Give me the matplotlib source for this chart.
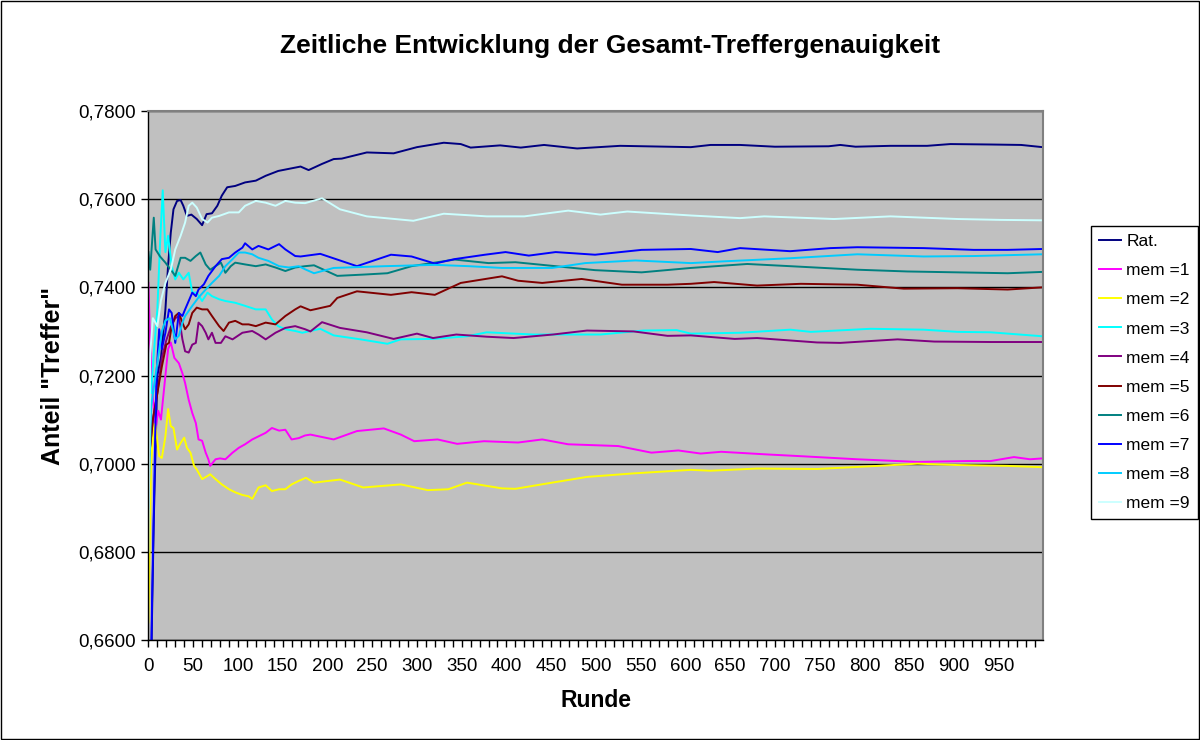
import matplotlib
matplotlib.use('Agg')
import matplotlib.pyplot as plt
from matplotlib.ticker import FixedLocator, MultipleLocator
from matplotlib.patches import Rectangle

# ---- data ----
rat_x = [0, 2, 4, 6, 10, 14, 19, 22, 25, 28, 32, 36, 39, 43, 48, 54, 60, 65, 71, 77,
         82, 88, 97, 108, 120, 131, 145, 160, 170, 179, 194, 207, 216, 244, 274, 300,
         330, 349, 360, 393, 416, 442, 479, 527, 580, 606, 628, 661, 700, 760, 773,
         790, 829, 870, 896, 941, 975, 999]
rat_y = [0.600, 0.640, 0.665, 0.687, 0.720, 0.724, 0.735, 0.745, 0.7524, 0.7577,
         0.7596, 0.7598, 0.7585, 0.7562, 0.7565, 0.7555, 0.7541, 0.7566, 0.7568,
         0.7585, 0.7608, 0.7627, 0.7630, 0.7638, 0.7642, 0.7653, 0.7664, 0.7670,
         0.7674, 0.7666, 0.7680, 0.7691, 0.7692, 0.7706, 0.7704, 0.7718, 0.7728,
         0.7725, 0.7717, 0.7722, 0.7717, 0.7723, 0.7715, 0.7721, 0.7719, 0.7718,
         0.7723, 0.7723, 0.7719, 0.7720, 0.7723, 0.7719, 0.7721, 0.7721, 0.7725,
         0.7724, 0.7723, 0.7718]

m1_x = [0, 2, 5, 8, 11, 14, 18, 22, 25, 29, 34, 38, 41, 45, 49, 53, 56, 60, 64, 67,
        69, 75, 80, 86, 94, 101, 108, 116, 123, 131, 138, 146, 153, 160, 168, 175,
        181, 207, 233, 263, 282, 297, 323, 345, 375, 413, 440, 469, 525, 562, 592,
        617, 640, 691, 729, 792, 859, 915, 941, 967, 985, 999]
m1_y = [0.741, 0.727, 0.715, 0.708, 0.712, 0.710, 0.718, 0.726, 0.7275, 0.724,
        0.7228, 0.7205, 0.7183, 0.7145, 0.7115, 0.7092, 0.7055, 0.7052, 0.7025,
        0.7010, 0.6995, 0.7010, 0.7012, 0.7010, 0.7025, 0.7036, 0.7044, 0.7055,
        0.7062, 0.7070, 0.7081, 0.7075, 0.7077, 0.7055, 0.7058, 0.7064, 0.7066,
        0.7055, 0.7074, 0.7080, 0.7066, 0.7051, 0.7055, 0.7045, 0.7051, 0.7048,
        0.7055, 0.7044, 0.7040, 0.7025, 0.7030, 0.7023, 0.7027, 0.7021, 0.7017,
        0.7010, 0.7004, 0.7006, 0.7006, 0.7015, 0.7010, 0.7012]

m2_x = [0, 3, 6, 8, 12, 15, 19, 22, 25, 28, 32, 36, 40, 43, 47, 51, 54, 60, 66, 69,
        75, 82, 90, 97, 105, 112, 116, 123, 131, 138, 146, 153, 160, 168, 176, 185,
        214, 240, 282, 312, 335, 356, 395, 410, 451, 490, 542, 606, 628, 680, 747,
        815, 859, 903, 960, 999]
m2_y = [0.664, 0.700, 0.709, 0.7085, 0.7017, 0.7013, 0.7062, 0.7124, 0.7085, 0.7081,
        0.7032, 0.7047, 0.7059, 0.7036, 0.7025, 0.6995, 0.6987, 0.6965, 0.6972,
        0.6976, 0.6965, 0.6953, 0.6942, 0.6935, 0.6929, 0.6926, 0.6920, 0.6946,
        0.6951, 0.6938, 0.6942, 0.6942, 0.6953, 0.6961, 0.6968, 0.6957, 0.6964,
        0.6946, 0.6953, 0.6940, 0.6942, 0.6957, 0.6944, 0.6943, 0.6957, 0.6970,
        0.6978, 0.6986, 0.6984, 0.6989, 0.6988, 0.6995, 0.7000, 0.6997, 0.6995,
        0.6992]

m3_x = [0, 3, 6, 10, 13, 16, 19, 22, 26, 30, 34, 39, 45, 49, 54, 60, 66, 71, 79, 86,
        97, 108, 120, 131, 138, 145, 153, 164, 172, 192, 207, 237, 267, 282, 318, 356,
        378, 430, 505, 553, 590, 606, 661, 717, 740, 807, 866, 904, 941, 999]
m3_y = [0.719, 0.716, 0.725, 0.735, 0.750, 0.762, 0.748, 0.7517, 0.7448, 0.7418,
        0.7433, 0.7418, 0.7433, 0.7388, 0.7388, 0.7369, 0.7388, 0.7380, 0.7373,
        0.7369, 0.7365, 0.7358, 0.7350, 0.7350, 0.7327, 0.7312, 0.7305, 0.7301,
        0.7297, 0.7306, 0.7291, 0.7282, 0.7272, 0.7282, 0.7283, 0.7289, 0.7298,
        0.7293, 0.7293, 0.7302, 0.7303, 0.7295, 0.7297, 0.7304, 0.7299, 0.7306,
        0.7304, 0.7299, 0.7298, 0.7289]

m4_x = [0, 5, 10, 15, 20, 25, 30, 34, 38, 41, 45, 49, 53, 56, 60, 64, 67, 71, 75, 81,
        86, 94, 105, 116, 123, 131, 142, 153, 164, 175, 181, 194, 214, 244, 274, 300,
        318, 344, 378, 408, 452, 490, 542, 580, 606, 655, 680, 747, 773, 837, 878,
        941, 999]
m4_y = [0.700, 0.710, 0.716, 0.724, 0.728, 0.731, 0.733, 0.7335, 0.7282, 0.7255,
        0.7252, 0.7270, 0.7274, 0.7320, 0.7312, 0.7297, 0.7282, 0.7297, 0.7274,
        0.7274, 0.7289, 0.7282, 0.7297, 0.7301, 0.7293, 0.7282, 0.7297, 0.7308,
        0.7312, 0.7305, 0.7300, 0.7321, 0.7308, 0.7298, 0.7283, 0.7295, 0.7285,
        0.7293, 0.7288, 0.7285, 0.7293, 0.7302, 0.7300, 0.7290, 0.7291, 0.7283,
        0.7285, 0.7275, 0.7274, 0.7282, 0.7277, 0.7276, 0.7276]

m5_x = [0, 5, 10, 15, 20, 23, 26, 30, 34, 38, 41, 45, 49, 54, 60, 66, 71, 79, 84, 90,
        97, 105, 112, 120, 131, 142, 153, 164, 170, 181, 203, 211, 233, 271, 294, 320,
        349, 395, 413, 440, 484, 529, 580, 606, 632, 680, 729, 792, 844, 904, 960, 999]
m5_y = [0.700, 0.710, 0.716, 0.722, 0.727, 0.7274, 0.7312, 0.7335, 0.7342, 0.7320,
        0.7305, 0.7316, 0.7342, 0.7354, 0.7350, 0.7350, 0.7335, 0.7312, 0.7301,
        0.7320, 0.7324, 0.7316, 0.7316, 0.7312, 0.7320, 0.7316, 0.7335, 0.7350,
        0.7357, 0.7348, 0.7358, 0.7376, 0.7391, 0.7383, 0.7389, 0.7383, 0.7410,
        0.7425, 0.7415, 0.7410, 0.7419, 0.7406, 0.7406, 0.7408, 0.7412, 0.7404,
        0.7408, 0.7406, 0.7397, 0.7398, 0.7395, 0.7400]

m6_x = [0, 2, 4, 6, 8, 13, 19, 25, 30, 36, 41, 47, 53, 58, 64, 69, 75, 81, 86, 92,
        97, 108, 120, 131, 142, 153, 164, 175, 185, 211, 241, 267, 294, 342, 380, 410,
        455, 499, 551, 606, 669, 717, 792, 848, 904, 960, 999]
m6_y = [0.748, 0.744, 0.750, 0.7558, 0.7486, 0.7470, 0.7456, 0.7440, 0.7426, 0.7467,
        0.7467, 0.7460, 0.7471, 0.7479, 0.7452, 0.7440, 0.7448, 0.7456, 0.7433,
        0.7448, 0.7456, 0.7452, 0.7448, 0.7452, 0.7445, 0.7437, 0.7445, 0.7448,
        0.7450, 0.7426, 0.7429, 0.7432, 0.7448, 0.7463, 0.7455, 0.7457, 0.7448,
        0.7439, 0.7434, 0.7444, 0.7453, 0.7448, 0.7440, 0.7436, 0.7434, 0.7432,
        0.7435]

m7_x = [0, 2, 4, 7, 9, 12, 15, 19, 23, 26, 30, 34, 38, 41, 45, 49, 53, 56, 62, 67,
        75, 82, 90, 97, 105, 108, 116, 123, 134, 146, 153, 164, 170, 192, 233, 271,
        294, 320, 342, 376, 399, 425, 455, 499, 551, 606, 636, 661, 717, 762, 792,
        866, 922, 960, 999]
m7_y = [0.600, 0.640, 0.668, 0.700, 0.720, 0.7305, 0.7260, 0.7297, 0.7350, 0.7342,
        0.7274, 0.7342, 0.7335, 0.7350, 0.7369, 0.7388, 0.7380, 0.7395, 0.7407,
        0.7426, 0.7448, 0.7464, 0.7467, 0.7479, 0.7490, 0.7500, 0.7486, 0.7494,
        0.7486, 0.7498, 0.7486, 0.7471, 0.7470, 0.7476, 0.7448, 0.7474, 0.7470,
        0.7454, 0.7464, 0.7474, 0.7480, 0.7472, 0.7480, 0.7474, 0.7485, 0.7487,
        0.7480, 0.7489, 0.7482, 0.7489, 0.7491, 0.7489, 0.7485, 0.7485, 0.7487]

m8_x = [0, 3, 8, 15, 19, 24, 30, 34, 38, 41, 49, 56, 64, 71, 79, 86, 94, 101, 108,
        116, 123, 134, 146, 157, 168, 175, 185, 207, 264, 320, 358, 395, 451, 488,
        544, 606, 643, 717, 792, 866, 922, 999]
m8_y = [0.690, 0.713, 0.720, 0.730, 0.7325, 0.733, 0.7282, 0.7290, 0.7320, 0.7335,
        0.7358, 0.7377, 0.7395, 0.7410, 0.7426, 0.7448, 0.7464, 0.7479, 0.7479,
        0.7475, 0.7467, 0.7460, 0.7448, 0.7445, 0.7448, 0.7441, 0.7432, 0.7444,
        0.7448, 0.7451, 0.7448, 0.7444, 0.7444, 0.7455, 0.7461, 0.7455, 0.7459,
        0.7466, 0.7475, 0.7470, 0.7471, 0.7475]

m9_x = [0, 2, 5, 10, 14, 19, 25, 30, 36, 41, 45, 49, 54, 60, 66, 71, 79, 90, 101,
        108, 120, 131, 142, 153, 164, 175, 194, 214, 244, 296, 330, 378, 420, 469,
        505, 535, 606, 661, 688, 766, 829, 904, 952, 999]
m9_y = [0.680, 0.725, 0.733, 0.7312, 0.737, 0.741, 0.744, 0.7486, 0.7517, 0.7547,
        0.7585, 0.7592, 0.7581, 0.7555, 0.7547, 0.7558, 0.7562, 0.7570, 0.7570,
        0.7585, 0.7596, 0.7592, 0.7585, 0.7596, 0.7592, 0.7591, 0.7602, 0.7577,
        0.7561, 0.7551, 0.7567, 0.7561, 0.7561, 0.7574, 0.7565, 0.7572, 0.7563,
        0.7557, 0.7561, 0.7555, 0.7561, 0.7555, 0.7553, 0.7552]

labels = ['Rat.', 'mem =1', 'mem =2', 'mem =3', 'mem =4', 'mem =5',
          'mem =6', 'mem =7', 'mem =8', 'mem =9']
colors = ['#000080', '#FF00FF', '#FFFF00', '#00FFFF', '#800080', '#800000',
          '#008080', '#0000FF', '#00CCFF', '#CCFFFF']
series = [(rat_x, rat_y), (m1_x, m1_y), (m2_x, m2_y), (m3_x, m3_y), (m4_x, m4_y),
          (m5_x, m5_y), (m6_x, m6_y), (m7_x, m7_y), (m8_x, m8_y), (m9_x, m9_y)]

y_ticks = [0.66, 0.68, 0.70, 0.72, 0.74, 0.76, 0.78]
y_ticklabels = ['0,6600', '0,6800', '0,7000', '0,7200', '0,7400', '0,7600', '0,7800']
x_ticks = list(range(0, 1000, 50))

plt.rcParams['font.family'] = ['Liberation Sans', 'DejaVu Sans']

fig = plt.figure(figsize=(12, 7.4), dpi=100)
fig.patch.set_facecolor('white')
fig.patches.append(Rectangle((0.001, 0.001), 0.998, 0.998, transform=fig.transFigure,
                             fill=False, edgecolor='black', linewidth=1.0))

ax = fig.add_axes([0.1233, 0.1351, 0.7459, 0.7149])
ax.set_facecolor('#C0C0C0')

for (xs, ys), lab, col in zip(series, labels, colors):
    ax.plot(xs, ys, color=col, lw=1.4, label=lab, solid_joinstyle='round')

ax.set_xlim(-0.5, 999.5)
ax.set_ylim(0.66, 0.78)

ax.yaxis.set_major_locator(FixedLocator(y_ticks))
ax.set_yticklabels(y_ticklabels)
ax.xaxis.set_major_locator(FixedLocator(x_ticks))
ax.set_xticklabels([str(v) for v in x_ticks])
ax.xaxis.set_minor_locator(MultipleLocator(10))

ax.grid(axis='y', color='black', lw=1.0)
ax.set_axisbelow(True)
ax.tick_params(axis='both', which='both', direction='out', length=5, width=1,
               labelsize=13.5, colors='black')
ax.tick_params(axis='x', pad=8)

for s in ('top', 'right'):
    ax.spines[s].set_color('#808080')
    ax.spines[s].set_linewidth(1.5)
for s in ('left', 'bottom'):
    ax.spines[s].set_color('black')
    ax.spines[s].set_linewidth(1.0)

fig.text(0.508, 0.938, 'Zeitliche Entwicklung der Gesamt-Treffergenauigkeit',
         ha='center', va='center', fontsize=19, fontweight='bold')
ax.set_xlabel('Runde', fontsize=16.5, fontweight='bold', labelpad=10)
ax.set_ylabel('Anteil "Treffer"', fontsize=18, fontweight='bold', labelpad=10)

leg = fig.legend(loc='upper left', bbox_to_anchor=(0.909, 0.694), fontsize=12.5,
                 frameon=True, fancybox=False, edgecolor='black', framealpha=1,
                 handlelength=1.3, handletextpad=0.3, labelspacing=0.8,
                 borderpad=0.45, borderaxespad=0)
leg.get_frame().set_linewidth(1.0)

fig.savefig('out.png', dpi=100)
